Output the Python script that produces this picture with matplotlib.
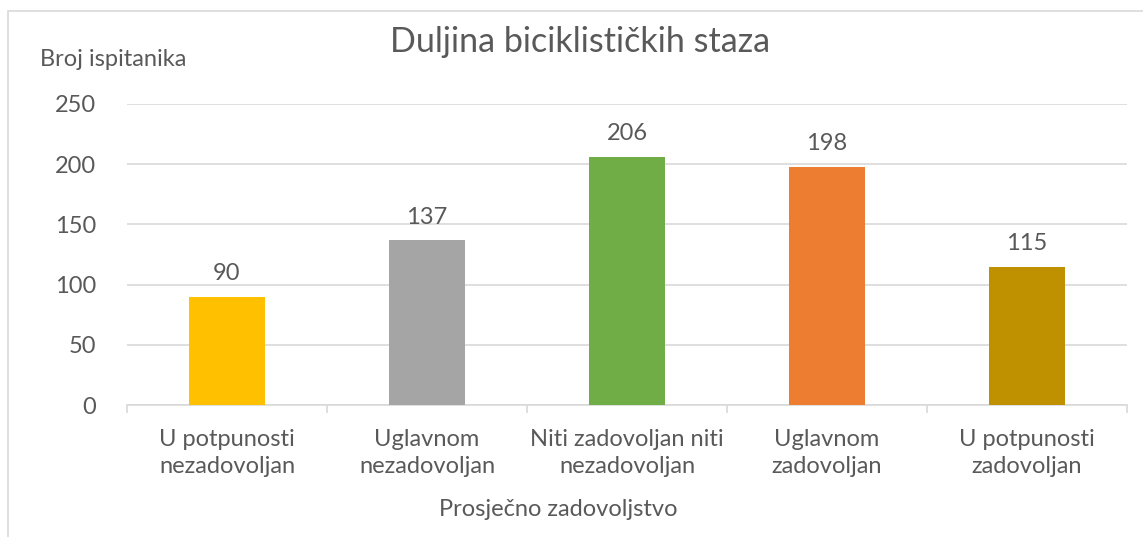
import matplotlib
matplotlib.use("Agg")
import matplotlib.pyplot as plt
from matplotlib.patches import Rectangle

categories = ["U potpunosti\nnezadovoljan", "Uglavnom\nnezadovoljan",
              "Niti zadovoljan niti\nnezadovoljan", "Uglavnom\nzadovoljan",
              "U potpunosti\nzadovoljan"]
values = [90, 137, 206, 198, 115]
colors = ["#FFC000", "#A5A5A5", "#70AD47", "#ED7D31", "#BF9000"]
yticks = [0, 50, 100, 150, 200, 250]

plt.rcParams['font.family'] = ['Lato', 'DejaVu Sans']
txt = "#595959"
fs = 17

W, H = 1143, 537
fig = plt.figure(figsize=(W/100, H/100), dpi=100)
fig.patches.append(Rectangle((8/W, -0.1), 1.2, 1 - 11/H + 0.1, transform=fig.transFigure,
                             facecolor="white", edgecolor="#d9d9d9", linewidth=1.2,
                             zorder=-10))

ax = fig.add_axes([127/W, 1 - 405/H, 1000/W, 301/H])
ax.patch.set_alpha(0)
x = list(range(len(categories)))
bars = ax.bar(x, values, width=0.38, color=colors, zorder=3)
ax.set_xlim(-0.5, len(categories) - 0.5)
ax.set_ylim(0, 250)
ax.set_yticks(yticks)
ax.set_yticklabels([str(t) for t in yticks], fontsize=fs, color=txt)
ax.grid(axis='y', color="#d9d9d9", linewidth=1.2, zorder=0)
for s in ["top", "right", "left"]:
    ax.spines[s].set_visible(False)
ax.spines["bottom"].set_color("#d9d9d9")
ax.spines["bottom"].set_linewidth(1.2)
ax.tick_params(axis='y', length=0, pad=22)
ax.set_xticks([i - 0.5 for i in range(len(categories) + 1)], minor=False)
ax.set_xticklabels([""] * (len(categories) + 1))
ax.tick_params(axis='x', which='major', length=6, color="#d9d9d9", width=1.2)
ax.set_xticks(x, minor=True)
ax.set_xticklabels(categories, minor=True, fontsize=fs, color=txt, linespacing=1.35)
ax.tick_params(axis='x', which='minor', length=0, pad=17)

for b, v in zip(bars, values):
    ax.annotate(str(v), (b.get_x() + b.get_width()/2, v), xytext=(0, 9),
                textcoords="offset points", ha="center", va="bottom",
                fontsize=fs, color=txt)

fig.text(580/W, 1 - 42/H, "Duljina biciklističkih staza", ha="center", va="center",
         fontsize=24.5, color=txt)
fig.text(40/W, 1 - 60/H, "Broj ispitanika", ha="left", va="center", fontsize=fs, color=txt)
fig.text(558/W, 1 - 510/H, "Prosječno zadovoljstvo", ha="center", va="center",
         fontsize=fs, color=txt)

fig.savefig("out.png", dpi=100)
